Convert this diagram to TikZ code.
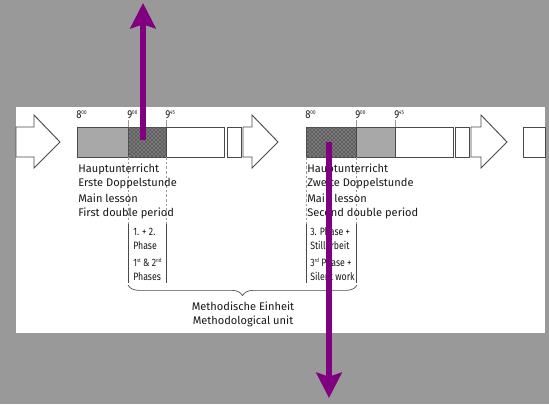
\documentclass[tikz,border=0pt]{standalone}
\usepackage{fontspec}
\setmainfont{Fira Sans}
\newfontfamily\condfont[FakeStretch=0.82]{Fira Sans}
\usetikzlibrary{arrows.meta,patterns,decorations.pathreplacing}
\definecolor{bggray}{HTML}{999999}
\definecolor{boxgray}{HTML}{A8A8A8}
\definecolor{hatchgray}{HTML}{7C7C7C}
\definecolor{linegray}{HTML}{4A4A4A}
\definecolor{thingray}{HTML}{9A9A9A}
\definecolor{purp}{HTML}{800080}
\newcommand{\sups}[1]{\raisebox{0.55ex}{\fontsize{4.2}{5}\selectfont #1}}
\begin{document}
\begin{tikzpicture}[x=0.75pt,y=-0.75pt,
  outline/.style={draw=linegray,line width=0.7pt,fill=white},
  greyseg/.style={draw=linegray,line width=0.7pt,fill=boxgray},
  hatchseg/.style={draw=linegray,line width=0.7pt,fill=hatchgray,
     postaction={pattern=crosshatch,pattern color=black!65}},
  tick/.style={draw=thingray,line width=0.4pt},
  dashline/.style={draw=thingray,line width=0.4pt,dash pattern=on 2pt off 1.5pt},
  phaseline/.style={draw=linegray,line width=0.5pt},
  txt/.style={inner sep=0pt,anchor=base west,font=\fontsize{8.3}{10}\selectfont,text=black!90},
  phtxt/.style={inner sep=0pt,anchor=base west,font=\condfont\fontsize{8}{9}\selectfont,text=black!90},
  timelab/.style={inner sep=0pt,anchor=base west,font=\condfont\fontsize{8.6}{9}\selectfont,text=black!90},
  unittxt/.style={inner sep=0pt,anchor=base,font=\fontsize{8.3}{10}\selectfont,text=black!90},
  purparrow/.style={draw=purp,line width=3.8pt,-{Stealth[length=19pt,width=19pt,inset=3pt]}}
]
\useasboundingbox (0,0) rectangle (549,404);
\fill[bggray] (0,0) rectangle (549,404);
\fill[white] (16,107) rectangle (545,333);

% outline arrows
\draw[outline] (16,127) -- (34,127) -- (34,115) -- (60,142) -- (34,168) -- (34,157) -- (16,157) -- cycle;
\draw[outline] (243,127) -- (252,127) -- (252,115) -- (278,142) -- (252,168) -- (252,157) -- (243,157) -- cycle;
\draw[outline] (471,127) -- (481,127) -- (481,115) -- (507,142) -- (481,168) -- (481,157) -- (471,157) -- cycle;

% first timeline
\draw[greyseg] (77,127) rectangle (128,157);
\draw[hatchseg] (128,127) rectangle (166,157);
\draw[outline] (166,127) rectangle (224,157);
\draw[outline] (227,127) rectangle (241,157);

% second timeline
\draw[hatchseg] (306,127) rectangle (356,157);
\draw[greyseg] (356,127) rectangle (395,157);
\draw[outline] (395,127) rectangle (453,157);
\draw[outline] (455,127) rectangle (469,157);
\draw[outline] (523,127) rectangle (545,157);

% time labels
\node[timelab] (a800) at (76,118) {8\sups{00}};
\node[timelab] (a900) at (127,118) {9\sups{00}};
\node[timelab] (a945) at (165,118) {9\sups{45}};
\node[timelab] (b800) at (305,118) {8\sups{00}};
\node[timelab] (b900) at (355,118) {9\sups{00}};
\node[timelab] (b945) at (394,118) {9\sups{45}};
\draw[tick] (128,120) -- (128,127);
\draw[tick] (166,120) -- (166,127);
\draw[tick] (356,120) -- (356,127);
\draw[tick] (395,120) -- (395,127);

% dashed guides
\draw[dashline] (128,157) -- (128,224);
\draw[dashline] (166,157) -- (166,224);
\draw[dashline] (306,157) -- (306,224);
\draw[dashline] (356,157) -- (356,224);

% phase lines
\draw[phaseline] (128,224) -- (128,283);
\draw[phaseline] (166,224) -- (166,283);
\draw[phaseline] (306,224) -- (306,283);
\draw[phaseline] (356,224) -- (356,283);

% lesson texts
\node[txt] (l1) at (78,172) {Hauptunterricht};
\node[txt] (l2) at (78,186) {Erste Doppelstunde};
\node[txt] (l3) at (78,202) {Main lesson};
\node[txt] (l4) at (78,216) {First double period};
\node[txt] (r1) at (307,172) {Hauptunterricht};
\node[txt] (r2) at (307,186) {Zweite Doppelstunde};
\node[txt] (r3) at (307,202) {Main lesson};
\node[txt] (r4) at (307,216) {Second double period};

% phase texts
\node[phtxt] (p1) at (133,235) {1. + 2.};
\node[phtxt] (p2) at (133,249) {Phase};
\node[phtxt] (p3) at (133,266) {1\sups{st} \& 2\sups{nd}};
\node[phtxt] (p4) at (133,280) {Phases};
\node[phtxt] (q1) at (310,235) {3. Phase +};
\node[phtxt] (q2) at (310,249) {Stillarbeit};
\node[phtxt] (q3) at (310,266) {3\sups{rd} Phase +};
\node[phtxt] (q4) at (310,280) {Silent work};

% brace
\coordinate (bl) at (128,285);
\coordinate (br) at (357,285);
\draw[draw=linegray,line width=0.5pt,decorate,decoration={brace,mirror,amplitude=8pt,aspect=0.5}] (bl) -- (br);
\node[unittxt] (u1) at (243,310) {Methodische Einheit};
\node[unittxt] (u2) at (243,324) {Methodological unit};

% purple arrows
\coordinate (ua) at (143,140);
\coordinate (ub) at (143,3);
\coordinate (da) at (329,142);
\coordinate (db) at (329,398);
\draw[purparrow] (ua) -- (ub);
\draw[purparrow] (da) -- (db);
\end{tikzpicture}
\end{document}
